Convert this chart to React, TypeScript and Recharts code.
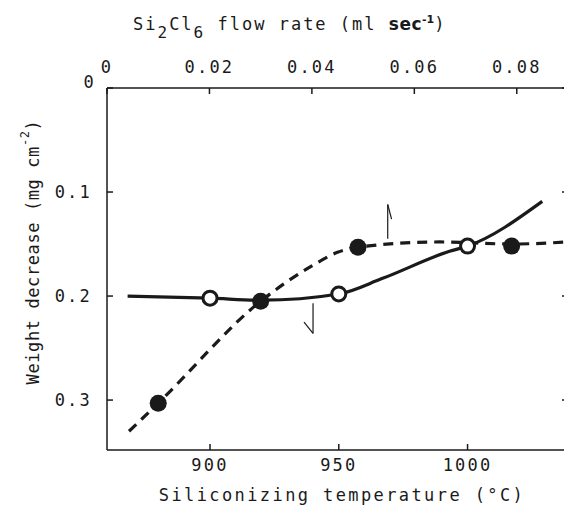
import {
  ComposedChart,
  Line,
  Scatter,
  XAxis,
  YAxis,
  ReferenceLine,
} from "recharts";

// temperature series (open circles, solid curve)
const tempPoints = [900, 950, 1000];
const tempWeight = [0.202, 0.198, 0.152];
const tempCurveX = [868, 900, 920, 950, 967, 993, 1000, 1029];
const tempCurveY = [0.2, 0.202, 0.204, 0.198, 0.183, 0.157, 0.152, 0.109];

// flow-rate series (filled circles, dashed curve)
const flowPoints = [0.01, 0.03, 0.049, 0.079];
const flowWeight = [0.303, 0.205, 0.153, 0.152];
const flowCurveX = [0.0043, 0.01, 0.03, 0.04, 0.045, 0.049, 0.065, 0.079, 0.09];
const flowCurveY = [0.33, 0.303, 0.205, 0.171, 0.158, 0.153, 0.148, 0.15, 0.148];

const tempTicks = [900, 950, 1000];
const flowTicks = [0, 0.02, 0.04, 0.06, 0.08];
const weightTicks = [0, 0.1, 0.2, 0.3];

const INK = "#1a1a1a";
const FONT = "'DejaVu Sans Mono', monospace";
const tickStyle = { fontSize: 17, fill: INK, fontFamily: FONT, letterSpacing: 2.2 };

const tempLine = tempCurveX.map((t, i) => ({ t, w: tempCurveY[i] }));
const tempDots = tempPoints.map((t, i) => ({ t, w: tempWeight[i] }));
const flowLine = flowCurveX.map((f, i) => ({ f, w: flowCurveY[i] }));
const flowDots = flowPoints.map((f, i) => ({ f, w: flowWeight[i] }));

function TopTitle({ viewBox }: any) {
  const { y } = viewBox;
  return (
    <text x={125} y={y - 8} fill={INK} fontFamily={FONT} fontSize={17} letterSpacing={2}>
      <tspan>Si</tspan>
      <tspan dy={8} fontSize={16}>2</tspan>
      <tspan dy={-8}>Cl</tspan>
      <tspan dy={8} fontSize={16}>6</tspan>
      <tspan dy={-8}> flow rate (ml </tspan>
      <tspan fontWeight="bold" fontFamily="'DejaVu Sans', sans-serif" letterSpacing={0.5}>sec</tspan>
      <tspan dy={-7} fontSize={11} fontWeight="bold" fontFamily="'DejaVu Sans', sans-serif" letterSpacing={0}>-1</tspan>
      <tspan dy={7}>)</tspan>
    </text>
  );
}

function BottomTitle() {
  return (
    <text
      x={334}
      y={487}
      textAnchor="middle"
      dominantBaseline="central"
      fill={INK}
      fontFamily={FONT}
      fontSize={17}
      letterSpacing={2.4}
    >
      Siliconizing temperature (°C)
    </text>
  );
}

function LeftTitle() {
  const cx = 25;
  const cy = 244;
  return (
    <text
      x={cx}
      y={cy}
      transform={`rotate(-90 ${cx} ${cy})`}
      textAnchor="middle"
      dominantBaseline="central"
      fill={INK}
      fontFamily={FONT}
      fontSize={17}
      letterSpacing={0.6}
    >
      Weight decrease (mg cm
      <tspan dy={-8} fontSize={12}>-2</tspan>
      <tspan dy={8}>)</tspan>
    </text>
  );
}

function LeftTick({ x, y, payload }: any) {
  const v = payload.value;
  const label = v === 0 ? "0" : v.toFixed(1);
  return (
    <text
      x={v === 0 ? x + 4 : x}
      y={v === 0 ? y - 6 : y}
      textAnchor="end"
      dominantBaseline="central"
      fill={INK}
      fontFamily={FONT}
      fontSize={17}
      letterSpacing={2.2}
    >
      {label}
    </text>
  );
}

function Dot({ cx, cy, open }: any) {
  if (open) {
    return <circle cx={cx} cy={cy} r={7} fill="#fff" stroke={INK} strokeWidth={3} />;
  }
  return <circle cx={cx} cy={cy} r={8.5} fill={INK} />;
}

export default function App() {
  return (
    <ComposedChart
      width={564}
      height={501}
      margin={{ top: 30, right: 0, bottom: 9, left: 39 }}
      style={{ fontFamily: FONT }}
    >
      <XAxis
        xAxisId="temp"
        dataKey="t"
        type="number"
        domain={[860, 1039]}
        ticks={tempTicks}
        allowDataOverflow
        height={50}
        stroke={INK}
        strokeWidth={1.5}
        tickSize={-6}
        tickMargin={15}
        tick={tickStyle}
        label={<BottomTitle />}
      />
      <XAxis
        xAxisId="flow"
        dataKey="f"
        type="number"
        orientation="top"
        domain={[0, 0.09]}
        ticks={flowTicks}
        tickFormatter={(v: number) => (v === 0 ? "0" : v.toFixed(2))}
        allowDataOverflow
        height={50}
        stroke={INK}
        strokeWidth={1.5}
        tickSize={-6}
        tickMargin={21}
        tick={tickStyle}
        label={<TopTitle />}
      />
      <YAxis
        yAxisId="left"
        dataKey="w"
        type="number"
        reversed
        domain={[0, 0.348]}
        ticks={weightTicks}
        allowDataOverflow
        width={60}
        stroke={INK}
        strokeWidth={1.5}
        tickSize={-6}
        tickMargin={21}
        tick={<LeftTick />}
        label={<LeftTitle />}
      />
      <YAxis
        yAxisId="right"
        orientation="right"
        type="number"
        reversed
        domain={[0, 0.348]}
        ticks={weightTicks}
        tickFormatter={() => ""}
        allowDataOverflow
        width={4}
        stroke={INK}
        strokeWidth={1.5}
        tickSize={-6}
      />

      <Line
        xAxisId="temp"
        yAxisId="left"
        data={tempLine}
        dataKey="w"
        type="monotone"
        stroke={INK}
        strokeWidth={3.2}
        dot={false}
        activeDot={false}
        isAnimationActive={false}
      />
      <Line
        xAxisId="flow"
        yAxisId="left"
        data={flowLine}
        dataKey="w"
        type="monotone"
        stroke={INK}
        strokeWidth={3.2}
        strokeDasharray="10 7"
        dot={false}
        activeDot={false}
        isAnimationActive={false}
      />

      <ReferenceLine xAxisId="temp" yAxisId="left" segment={[{ x: 969, y: 0.145 }, { x: 969, y: 0.112 }]} stroke={INK} strokeWidth={1.2} />
      <ReferenceLine xAxisId="temp" yAxisId="left" segment={[{ x: 969, y: 0.112 }, { x: 970.5, y: 0.126 }]} stroke={INK} strokeWidth={1.2} />
      <ReferenceLine xAxisId="temp" yAxisId="left" segment={[{ x: 940, y: 0.207 }, { x: 940, y: 0.236 }]} stroke={INK} strokeWidth={1.2} />
      <ReferenceLine xAxisId="temp" yAxisId="left" segment={[{ x: 940, y: 0.236 }, { x: 936.5, y: 0.225 }]} stroke={INK} strokeWidth={1.2} />

      <Scatter
        xAxisId="flow"
        yAxisId="left"
        data={flowDots}
        dataKey="w"
        shape={(p: any) => <Dot {...p} />}
        isAnimationActive={false}
      />
      <Scatter
        xAxisId="temp"
        yAxisId="left"
        data={tempDots}
        dataKey="w"
        shape={(p: any) => <Dot {...p} open />}
        isAnimationActive={false}
      />
    </ComposedChart>
  );
}
